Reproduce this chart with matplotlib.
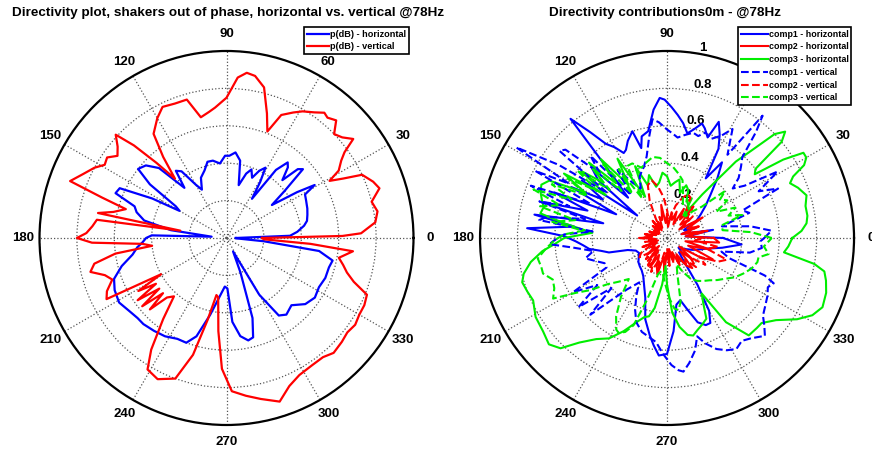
import numpy as np
import matplotlib
matplotlib.use("Agg")
import matplotlib.pyplot as plt
from matplotlib.lines import Line2D

plt.rcParams['font.family'] = ['Liberation Sans', 'DejaVu Sans']
plt.rcParams['font.weight'] = 'bold'

# ---------------- left plot: p(dB), normalised to outer ring -------------
ph_deg = [0, 2, 5, 9, 12, 16, 20, 25, 29, 31, 33, 36, 39, 42, 44, 46, 49, 51, 54, 57,
          59, 61, 64, 67, 70, 73, 77, 80, 84, 88, 91, 95, 100, 104, 108, 113, 117, 120,
          124, 127, 130, 134, 138, 142, 145, 148, 150, 152, 155, 158, 161, 164, 168,
          172, 175, 178, 180, 183, 186, 190, 195, 200, 205, 211, 217, 222, 226, 232,
          238, 244, 249, 253, 258, 263, 268, 271, 274, 278, 282, 285, 288, 292, 296,
          300, 304, 308, 314, 320, 326, 332, 338, 344, 348, 352, 355, 358, 360]
ph_r = [0.05, 0.34, 0.38, 0.42, 0.44, 0.45, 0.46, 0.47, 0.48, 0.55, 0.45, 0.30, 0.40,
        0.55, 0.53, 0.43, 0.50, 0.52, 0.45, 0.25, 0.35, 0.43, 0.40, 0.35, 0.39, 0.36,
        0.29, 0.42, 0.46, 0.44, 0.44, 0.40, 0.42, 0.42, 0.38, 0.35, 0.29, 0.33, 0.43,
        0.45, 0.35, 0.52, 0.58, 0.60, 0.50, 0.32, 0.29, 0.45, 0.63, 0.64, 0.52, 0.50,
        0.45, 0.30, 0.08, 0.40, 0.43, 0.45, 0.48, 0.51, 0.58, 0.64, 0.66, 0.67, 0.65,
        0.64, 0.64, 0.63, 0.62, 0.60, 0.60, 0.55, 0.42, 0.32, 0.26, 0.27, 0.45, 0.53,
        0.56, 0.55, 0.45, 0.20, 0.08, 0.35, 0.50, 0.52, 0.50, 0.55, 0.57, 0.56, 0.57,
        0.57, 0.58, 0.50, 0.20, 0.05, 0.05]

pv_deg = [0, 1, 2, 6, 10, 14, 18, 21, 25, 27, 29, 31, 34, 36, 38, 41, 44, 47, 50, 52,
          55, 59, 62, 66, 69, 72, 76, 80, 83, 86, 90, 95, 98, 102, 106, 111, 116, 120,
          125, 128, 131, 133, 135, 137, 140, 143, 146, 149, 152, 156, 160, 162, 164,
          167, 169, 171, 172, 175, 178, 180, 182, 184, 186, 188, 191, 194, 197, 200,
          204, 207, 209, 211, 213, 215, 217, 219, 221, 223, 225, 228, 232, 236, 239,
          244, 250, 254, 257, 260, 262, 265, 268, 272, 277, 282, 288, 293, 298, 304,
          309, 313, 318, 322, 326, 330, 334, 338, 341, 344, 347, 350, 354, 356, 358, 360]
pv_r = [0.19, 0.62, 0.72, 0.80, 0.82, 0.80, 0.86, 0.84, 0.80, 0.70, 0.63, 0.70, 0.74,
        0.78, 0.86, 0.82, 0.80, 0.86, 0.84, 0.85, 0.82, 0.79, 0.76, 0.72, 0.61, 0.70,
        0.83, 0.88, 0.89, 0.86, 0.75, 0.70, 0.68, 0.66, 0.77, 0.77, 0.78, 0.74, 0.68,
        0.55, 0.42, 0.55, 0.70, 0.81, 0.76, 0.73, 0.77, 0.76, 0.80, 0.84, 0.89, 0.70,
        0.56, 0.62, 0.70, 0.25, 0.70, 0.72, 0.75, 0.80, 0.72, 0.45, 0.40, 0.60, 0.72,
        0.75, 0.68, 0.65, 0.70, 0.72, 0.40, 0.55, 0.45, 0.58, 0.45, 0.58, 0.45, 0.56,
        0.45, 0.42, 0.55, 0.72, 0.82, 0.84, 0.80, 0.65, 0.45, 0.31, 0.32, 0.50, 0.70,
        0.82, 0.85, 0.88, 0.92, 0.86, 0.83, 0.82, 0.82, 0.84, 0.83, 0.82, 0.83, 0.82,
        0.82, 0.81, 0.72, 0.67, 0.64, 0.61, 0.68, 0.45, 0.20, 0.19]

# ---------------- right plot: component contributions --------------------
c1h_deg = [0, 5, 10, 15, 20, 25, 30, 35, 40, 45, 50, 54, 57, 60, 63, 66, 68, 71, 73,
           76, 79, 82, 85, 88, 91, 93, 96, 100, 104, 106, 108, 112, 115, 117, 120, 123,
           126, 129, 131, 134, 137, 140, 143, 146, 149, 152, 155, 158, 161, 164, 167,
           170, 173, 176, 179, 182, 185, 188, 191, 194, 197, 202, 208, 213, 220, 226,
           232, 238, 244, 250, 255, 260, 263, 266, 270, 274, 278, 282, 286, 290, 294,
           297, 300, 303, 306, 310, 315, 320, 325, 330, 335, 340, 345, 350, 355, 360]
c1h_r = [0.30, 0.10, 0.25, 0.08, 0.15, 0.10, 0.18, 0.22, 0.27, 0.33, 0.42, 0.50, 0.38,
         0.55, 0.62, 0.68, 0.58, 0.62, 0.64, 0.60, 0.57, 0.62, 0.66, 0.70, 0.74, 0.75,
         0.69, 0.58, 0.56, 0.50, 0.60, 0.56, 0.52, 0.51, 0.56, 0.60, 0.70, 0.82, 0.45,
         0.30, 0.55, 0.48, 0.20, 0.55, 0.40, 0.58, 0.30, 0.65, 0.45, 0.70, 0.35, 0.72,
         0.50, 0.75, 0.55, 0.49, 0.45, 0.42, 0.36, 0.32, 0.22, 0.18, 0.17, 0.18, 0.20,
         0.21, 0.22, 0.24, 0.28, 0.34, 0.45, 0.53, 0.58, 0.63, 0.62, 0.50, 0.36, 0.34,
         0.40, 0.48, 0.51, 0.51, 0.45, 0.30, 0.15, 0.10, 0.12, 0.08, 0.10, 0.12, 0.15,
         0.18, 0.22, 0.30, 0.40, 0.30]

c2h_deg = list(range(0, 365, 5))
c2h_r = [0.25, 0.10, 0.20, 0.08, 0.18, 0.12, 0.22, 0.08, 0.16, 0.10, 0.20, 0.12, 0.18,
         0.08, 0.15, 0.10, 0.14, 0.06, 0.13, 0.08, 0.18, 0.10, 0.12, 0.06, 0.10, 0.05,
         0.12, 0.06, 0.10, 0.05, 0.08, 0.05, 0.10, 0.06, 0.12, 0.08, 0.14, 0.06, 0.10,
         0.05, 0.12, 0.06, 0.10, 0.08, 0.14, 0.06, 0.16, 0.08, 0.18, 0.10, 0.16, 0.20,
         0.10, 0.18, 0.08, 0.15, 0.06, 0.12, 0.08, 0.16, 0.10, 0.18, 0.21, 0.10, 0.18,
         0.08, 0.22, 0.27, 0.12, 0.24, 0.10, 0.28, 0.25]

c3h_deg = [0, 3, 6, 9, 13, 17, 21, 24, 26, 28, 30, 32, 34, 36, 38, 40, 42, 44, 46, 48,
           51, 54, 58, 62, 66, 70, 74, 78, 82, 86, 90, 94, 98, 102, 106, 110, 114, 118,
           122, 126, 130, 133, 136, 139, 142, 145, 148, 151, 154, 157, 160, 163, 166,
           169, 172, 176, 180, 183, 186, 190, 194, 197, 201, 205, 211, 217, 222, 226,
           230, 235, 240, 245, 250, 254, 257, 260, 264, 267, 270, 274, 278, 282, 285,
           288, 292, 296, 299, 302, 305, 310, 315, 318, 323, 328, 332, 336, 341, 345,
           348, 350, 353, 356, 360]
c3h_r = [0.67, 0.72, 0.75, 0.76, 0.76, 0.78, 0.75, 0.72, 0.75, 0.83, 0.86, 0.86, 0.75,
         0.58, 0.60, 0.80, 0.85, 0.80, 0.65, 0.55, 0.30, 0.15, 0.25, 0.22, 0.28, 0.30,
         0.25, 0.32, 0.30, 0.28, 0.33, 0.35, 0.30, 0.28, 0.35, 0.30, 0.42, 0.25, 0.50,
         0.35, 0.55, 0.40, 0.58, 0.45, 0.58, 0.40, 0.65, 0.50, 0.70, 0.73, 0.72, 0.70,
         0.68, 0.69, 0.55, 0.40, 0.55, 0.60, 0.67, 0.74, 0.79, 0.81, 0.80, 0.79, 0.82,
         0.83, 0.85, 0.82, 0.73, 0.66, 0.62, 0.55, 0.48, 0.44, 0.43, 0.38, 0.25, 0.15,
         0.25, 0.40, 0.48, 0.53, 0.54, 0.52, 0.50, 0.48, 0.40, 0.35, 0.55, 0.68, 0.68,
         0.68, 0.73, 0.82, 0.88, 0.91, 0.90, 0.88, 0.86, 0.80, 0.63, 0.65, 0.67]

c1v_deg = [0, 4, 8, 12, 17, 20, 24, 27, 31, 34, 37, 40, 44, 47, 50, 52, 54, 57, 59, 62,
           66, 70, 73, 76, 80, 84, 87, 90, 94, 97, 100, 104, 108, 111, 114, 118, 122,
           126, 130, 133, 136, 139, 141, 143, 146, 149, 151, 153, 156, 159, 162, 164,
           167, 170, 172, 175, 178, 181, 183, 186, 190, 194, 198, 202, 206, 210, 214,
           218, 222, 225, 228, 232, 236, 238, 242, 246, 250, 255, 260, 264, 268, 272,
           275, 277, 280, 284, 287, 290, 294, 298, 302, 306, 310, 315, 318, 321, 325,
           330, 334, 337, 339, 342, 346, 350, 354, 358, 360]
c1v_r = [0.52, 0.56, 0.45, 0.30, 0.46, 0.43, 0.65, 0.55, 0.69, 0.50, 0.44, 0.50, 0.55,
         0.59, 0.74, 0.83, 0.55, 0.62, 0.68, 0.62, 0.58, 0.60, 0.57, 0.58, 0.56, 0.54,
         0.56, 0.58, 0.62, 0.64, 0.55, 0.45, 0.40, 0.38, 0.36, 0.30, 0.35, 0.45, 0.30,
         0.60, 0.50, 0.72, 0.74, 0.40, 0.70, 0.94, 0.60, 0.79, 0.45, 0.78, 0.55, 0.71,
         0.45, 0.65, 0.69, 0.40, 0.55, 0.60, 0.63, 0.50, 0.40, 0.45, 0.40, 0.36, 0.36,
         0.58, 0.45, 0.60, 0.40, 0.58, 0.45, 0.35, 0.30, 0.28, 0.35, 0.42, 0.48, 0.52,
         0.54, 0.56, 0.62, 0.68, 0.71, 0.72, 0.68, 0.62, 0.55, 0.60, 0.65, 0.68, 0.70,
         0.68, 0.70, 0.74, 0.70, 0.66, 0.64, 0.62, 0.60, 0.62, 0.56, 0.35, 0.30, 0.45,
         0.51, 0.50, 0.52]

c2v_deg = list(range(0, 365, 5))
c2v_r = [0.20, 0.12, 0.22, 0.10, 0.18, 0.12, 0.16, 0.10, 0.18, 0.15, 0.22, 0.18, 0.25,
         0.26, 0.22, 0.18, 0.12, 0.10, 0.15, 0.22, 0.28, 0.32, 0.30, 0.22, 0.12, 0.08,
         0.10, 0.06, 0.10, 0.05, 0.08, 0.05, 0.10, 0.06, 0.12, 0.08, 0.15, 0.08, 0.12,
         0.06, 0.14, 0.10, 0.16, 0.18, 0.12, 0.16, 0.10, 0.19, 0.15, 0.20, 0.12, 0.18,
         0.08, 0.14, 0.06, 0.12, 0.08, 0.14, 0.10, 0.15, 0.12, 0.18, 0.15, 0.22, 0.16,
         0.25, 0.20, 0.30, 0.34, 0.22, 0.28, 0.15, 0.20]

c3v_deg = [0, 4, 8, 13, 17, 20, 24, 28, 32, 36, 39, 42, 46, 50, 55, 60, 65, 70, 75, 80,
           85, 90, 95, 100, 105, 110, 115, 119, 122, 125, 128, 131, 134, 137, 140, 143,
           146, 149, 152, 155, 158, 160, 163, 166, 169, 172, 175, 178, 181, 185, 189,
           193, 196, 200, 204, 208, 211, 214, 218, 222, 227, 232, 237, 241, 243, 246,
           249, 252, 256, 260, 264, 268, 272, 276, 279, 282, 286, 290, 295, 300, 305,
           310, 315, 320, 325, 330, 335, 340, 345, 348, 351, 355, 360]
c3v_r = [0.56, 0.45, 0.30, 0.30, 0.42, 0.35, 0.40, 0.30, 0.38, 0.35, 0.40, 0.25, 0.20,
         0.15, 0.20, 0.22, 0.20, 0.25, 0.32, 0.35, 0.38, 0.40, 0.43, 0.44, 0.42, 0.40,
         0.44, 0.44, 0.25, 0.45, 0.30, 0.52, 0.35, 0.55, 0.40, 0.60, 0.45, 0.62, 0.48,
         0.68, 0.55, 0.76, 0.60, 0.70, 0.50, 0.62, 0.45, 0.55, 0.60, 0.65, 0.70, 0.69,
         0.69, 0.65, 0.66, 0.69, 0.57, 0.50, 0.40, 0.35, 0.30, 0.40, 0.50, 0.56, 0.57,
         0.55, 0.50, 0.35, 0.20, 0.18, 0.20, 0.25, 0.32, 0.38, 0.39, 0.35, 0.20, 0.15,
         0.20, 0.25, 0.28, 0.30, 0.32, 0.35, 0.38, 0.42, 0.45, 0.48, 0.50, 0.50, 0.55,
         0.52, 0.56]

theta_labels = ['0', '30', '60', '90', '120', '150', '180', '210', '240', '270', '300', '330']
r_ticks = [0.2, 0.4, 0.6, 0.8, 1.0]
r_labels = ['0.2', '0.4', '0.6', '0.8', '1']


def style_polar(ax, show_rlabels):
    ax.set_ylim(0, 1)
    ax.set_thetagrids(range(0, 360, 30), theta_labels, fontsize=9.5, fontweight='bold')
    ax.set_rgrids(r_ticks, r_labels if show_rlabels else [''] * 5, angle=80,
                  fontsize=9.5, fontweight='bold')
    ax.grid(True, color='#555555', linestyle=':', linewidth=0.9)
    ax.spines['polar'].set_linewidth(1.6)
    ax.spines['polar'].set_color('black')
    ax.tick_params(axis='x', pad=1.5)


fig = plt.figure(figsize=(8.72, 4.54), dpi=100)

ax1 = fig.add_axes([0.0453, 0.0639, 0.4289, 0.8238], projection='polar')
ax1.plot(np.deg2rad(ph_deg), ph_r, color='#0000ff', lw=1.6)
ax1.plot(np.deg2rad(pv_deg), pv_r, color='#ff0000', lw=1.6)
style_polar(ax1, False)

ax2 = fig.add_axes([0.5505, 0.0639, 0.4289, 0.8238], projection='polar')
ax2.plot(np.deg2rad(c1h_deg), c1h_r, color='#0000ff', lw=1.5)
ax2.plot(np.deg2rad(c2h_deg), c2h_r, color='#ff0000', lw=1.5)
ax2.plot(np.deg2rad(c3h_deg), c3h_r, color='#00ee00', lw=1.5)
ax2.plot(np.deg2rad(c1v_deg), c1v_r, color='#0000ff', lw=1.5, ls='--')
ax2.plot(np.deg2rad(c2v_deg), c2v_r, color='#ff0000', lw=1.5, ls='--')
ax2.plot(np.deg2rad(c3v_deg), c3v_r, color='#00ee00', lw=1.5, ls='--')
style_polar(ax2, True)

fig.text(0.261, 0.972, 'Directivity plot, shakers out of phase, horizontal vs. vertical @78Hz',
         ha='center', va='center', fontsize=9.7, fontweight='bold')
fig.text(0.763, 0.972, 'Directivity contributions0m - @78Hz',
         ha='center', va='center', fontsize=9.7, fontweight='bold')

leg1 = fig.legend(handles=[Line2D([], [], color='#0000ff', lw=1.6),
                           Line2D([], [], color='#ff0000', lw=1.6)],
                  labels=['p(dB) - horizontal', 'p(dB) - vertical'],
                  loc='upper right', bbox_to_anchor=(0.469, 0.9405),
                  prop={'size': 6.6, 'weight': 'bold'}, fancybox=False, framealpha=1,
                  edgecolor='black', borderpad=0.3, labelspacing=0.35, handlelength=2.4,
                  handletextpad=0.1, borderaxespad=0)
leg1.get_frame().set_linewidth(1.2)

leg2 = fig.legend(handles=[Line2D([], [], color='#0000ff', lw=1.5),
                           Line2D([], [], color='#ff0000', lw=1.5),
                           Line2D([], [], color='#00ee00', lw=1.5),
                           Line2D([], [], color='#0000ff', lw=1.5, ls='--'),
                           Line2D([], [], color='#ff0000', lw=1.5, ls='--'),
                           Line2D([], [], color='#00ee00', lw=1.5, ls='--')],
                  labels=['comp1 - horizontal', 'comp2 - horizontal', 'comp3 - horizontal',
                          'comp1 - vertical', 'comp2 - vertical', 'comp3 - vertical'],
                  loc='upper right', bbox_to_anchor=(0.976, 0.9405),
                  prop={'size': 6.4, 'weight': 'bold'}, fancybox=False, framealpha=1,
                  edgecolor='black', borderpad=0.3, labelspacing=0.42, handlelength=3.0,
                  handletextpad=0.1, borderaxespad=0)
leg2.get_frame().set_linewidth(1.2)

fig.savefig('out.png', dpi=100)
